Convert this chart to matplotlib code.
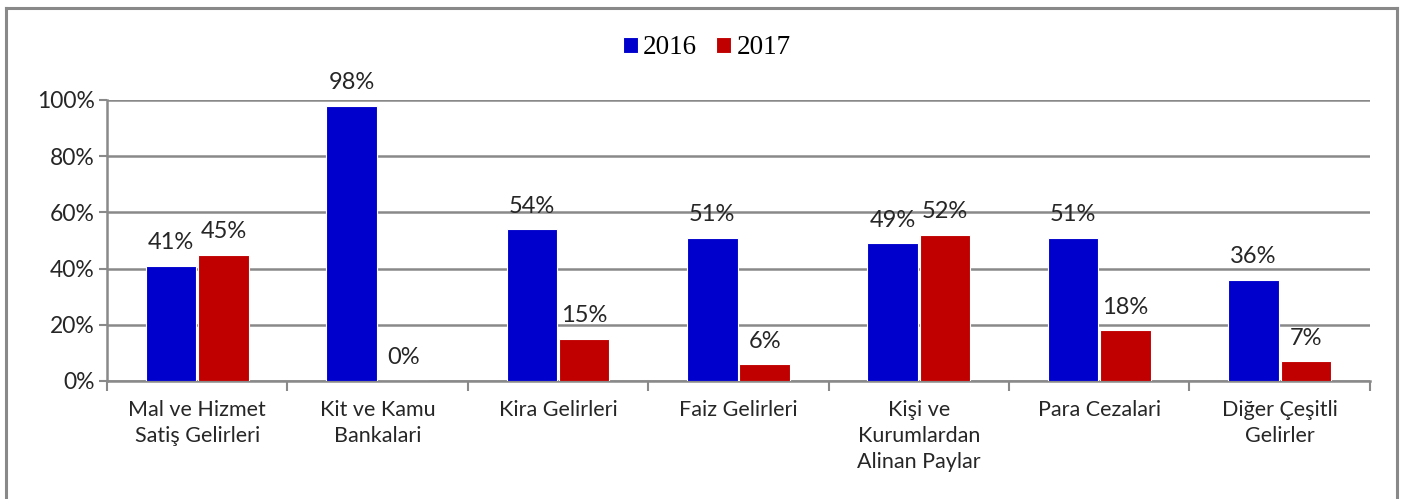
import matplotlib
matplotlib.use("Agg")
import matplotlib.pyplot as plt
import numpy as np
from matplotlib.lines import Line2D

# Datos
categorias = [
    "Mal ve Hizmet\nSatiş Gelirleri",
    "Kit ve Kamu\nBankalari",
    "Kira Gelirleri",
    "Faiz Gelirleri",
    "Kişi ve\nKurumlardan\nAlinan Paylar",
    "Para Cezalari",
    "Diğer Çeşitli\nGelirler",
]
valores_2016 = [41, 98, 54, 51, 49, 51, 36]
valores_2017 = [45, 0, 15, 6, 52, 18, 7]
series = ["2016", "2017"]
y_ticks = [0, 20, 40, 60, 80, 100]

color_2016 = "#0000CC"
color_2017 = "#C00000"
color_gris = "#898989"
color_texto = "#262626"
fuente = "Lato"

fig = plt.figure(figsize=(14.05, 4.99), dpi=100)
ax = fig.add_axes([0.0762, 0.2365, 0.975 - 0.0762, 0.7996 - 0.2365])

x = np.arange(len(categorias))
ancho = 0.28
b1 = ax.bar(x - ancho / 2 - 0.005, valores_2016, width=ancho, color=color_2016,
            edgecolor="white", linewidth=0.8, label=series[0], zorder=3)
b2 = ax.bar(x + ancho / 2 + 0.005, valores_2017, width=ancho, color=color_2017,
            edgecolor="white", linewidth=0.8, label=series[1], zorder=3)

for barras in (b1, b2):
    for rect in barras:
        h = rect.get_height()
        ax.annotate(f"{h:.0f}%", (rect.get_x() + rect.get_width() / 2, h),
                    xytext=(0, 9), textcoords="offset points",
                    ha="center", va="bottom", fontsize=17, family=fuente,
                    color=color_texto, annotation_clip=False, zorder=4)

ax.set_xlim(-0.5, len(categorias) - 0.5)
ax.set_ylim(0, 100)
ax.set_yticks(y_ticks)
ax.set_yticklabels([f"{v}%" for v in y_ticks], fontsize=16.5, family=fuente,
                   color=color_texto)
ax.yaxis.grid(True, color=color_gris, linewidth=1.8, zorder=0)
ax.tick_params(axis="y", length=6, width=1.5, color=color_gris, pad=3)

ax.set_xticks(x)
ax.set_xticklabels(categorias, fontsize=15.5, family=fuente, color=color_texto,
                   va="top", linespacing=1.35)
ax.set_xticks(np.arange(len(categorias) + 1) - 0.5, minor=True)
ax.tick_params(axis="x", which="major", length=0, pad=14)
ax.tick_params(axis="x", which="minor", length=7, width=1.5, color=color_gris)

for lado in ("top", "right"):
    ax.spines[lado].set_visible(False)
for lado in ("left", "bottom"):
    ax.spines[lado].set_color(color_gris)
    ax.spines[lado].set_linewidth(1.8)

ax.legend(loc="center", bbox_to_anchor=(0.503, 0.904), bbox_transform=fig.transFigure,
          ncol=2, frameon=False, prop={"family": "Liberation Serif", "size": 19.5},
          handlelength=0.55, handleheight=0.55, handletextpad=0.2, columnspacing=0.7)

# Marco exterior (sin borde inferior visible)
x0, x1 = 6 / 1405, 1397 / 1405
y_top = 1 - 8 / 499
for xs, ys in (([x0, x0], [0, y_top]), ([x0, x1], [y_top, y_top]), ([x1, x1], [y_top, 0])):
    fig.add_artist(Line2D(xs, ys, transform=fig.transFigure, color=color_gris,
                          linewidth=2.2))

fig.savefig("out.png", dpi=100)
